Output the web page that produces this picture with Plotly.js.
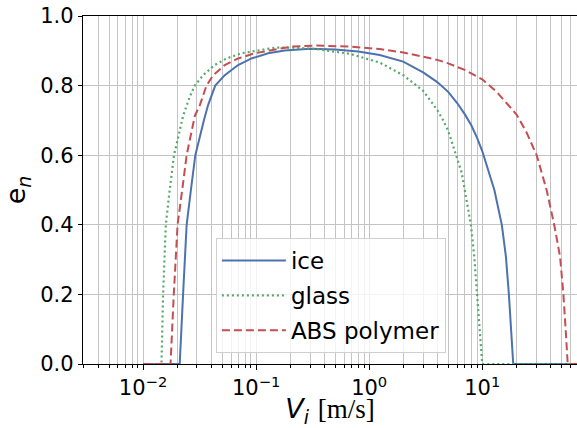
<!DOCTYPE html>
<html>
<head>
<meta charset="utf-8">
<script src="https://cdn.plot.ly/plotly-3.0.1.min.js"></script>
<style>html,body{margin:0;padding:0;background:#fff}#chart{width:577px;height:428px}</style>
</head>
<body>
<div id="chart"></div>
<script>
// ice (blue solid)
const iceV = [0.01, 0.0211, 0.0226, 0.0243, 0.0265, 0.029, 0.0345, 0.0376, 0.0435, 0.0528, 0.0693, 0.091, 0.128, 0.179, 0.30, 0.50, 0.80, 1.24, 2.0, 3.0, 4.0, 5.0, 6.0, 7.0, 8.0, 9.0, 10.0, 11.7, 12.8, 14.9, 16.2, 17.2, 18.1, 18.8, 100];
const iceE = [0, 0, 0.2, 0.4, 0.5, 0.6, 0.70, 0.744, 0.8, 0.830, 0.859, 0.878, 0.893, 0.901, 0.906, 0.904, 0.898, 0.888, 0.869, 0.838, 0.810, 0.782, 0.750, 0.718, 0.686, 0.650, 0.612, 0.540, 0.5, 0.4, 0.308, 0.2, 0.098, 0, 0];
// glass (green dotted)
const glassV = [0.01, 0.01456, 0.01504, 0.0159, 0.0172, 0.0188, 0.0226, 0.0259, 0.0287, 0.034, 0.0431, 0.0547, 0.0743, 0.104, 0.147, 0.22, 0.344, 0.68, 1.24, 2.0, 2.65, 3.0, 4.0, 4.5, 5.0, 5.9, 6.58, 7.0, 7.94, 8.5, 9.0, 9.4, 10.0, 100];
const glassE = [0, 0, 0.2, 0.4, 0.5, 0.6, 0.713, 0.768, 0.8, 0.830, 0.859, 0.878, 0.893, 0.901, 0.909, 0.909, 0.905, 0.891, 0.866, 0.830, 0.800, 0.785, 0.730, 0.701, 0.670, 0.6, 0.55, 0.5, 0.4, 0.308, 0.2, 0.098, 0, 0];
// ABS polymer (red dashed)
const absV = [0.01, 0.0175, 0.0187, 0.0202, 0.0222, 0.0243, 0.0287, 0.0318, 0.0364, 0.0417, 0.0528, 0.0693, 0.0975, 0.136, 0.205, 0.344, 0.68, 1.24, 2.0, 3.0, 4.0, 5.0, 7.0, 10.0, 13.4, 16.9, 20.1, 24.7, 30.3, 37.1, 43.3, 48.8, 52.2, 54.7, 57.0, 100];
const absE = [0, 0, 0.2, 0.4, 0.5, 0.6, 0.713, 0.744, 0.8, 0.830, 0.859, 0.878, 0.893, 0.901, 0.912, 0.915, 0.912, 0.905, 0.895, 0.883, 0.874, 0.864, 0.845, 0.818, 0.782, 0.745, 0.717, 0.665, 0.6, 0.5, 0.4, 0.308, 0.2, 0.098, 0, 0];

const majorTicks = [0.01, 0.1, 1, 10];
const majorText = ['10<sup>−2</sup>', '10<sup>−1</sup>', '10<sup>0</sup>', '10<sup>1</sup>'];
const minorTicks = [0.003,0.004,0.005,0.006,0.007,0.008,0.009,
  0.02,0.03,0.04,0.05,0.06,0.07,0.08,0.09,
  0.2,0.3,0.4,0.5,0.6,0.7,0.8,0.9,
  2,3,4,5,6,7,8,9,20,30,40,50,60,70];
const yTicks = [0, 0.2, 0.4, 0.6, 0.8, 1.0];
const yText = ['0.0', '0.2', '0.4', '0.6', '0.8', '1.0'];

const font = 'DejaVu Sans, sans-serif';
const traces = [
  {x: iceV, y: iceE, name: 'ice', mode: 'lines', legendgroup: 'a',
   line: {color: '#4c72b0', width: 2}},
  {x: glassV, y: glassE, name: 'glass', mode: 'lines', legendgroup: 'b',
   line: {color: '#55a868', width: 2.2, dash: '2px,3px'}},
  {x: absV, y: absE, name: 'ABS polymer', mode: 'lines', legendgroup: 'c',
   line: {color: '#c44e52', width: 2, dash: '8px,4px'}}
];
const layout = {
  width: 577, height: 428,
  margin: {l: 83, r: 0, t: 16, b: 64},
  paper_bgcolor: '#fff', plot_bgcolor: '#fff',
  font: {family: font, size: 21, color: '#000'},
  showlegend: true,
  legend: {x: 0.269, y: 0.362, xanchor: 'left', yanchor: 'top',
    bgcolor: 'rgba(255,255,255,0.8)', bordercolor: '#d0d0d0', borderwidth: 1,
    font: {family: font, size: 23, color: '#000'}, tracegroupgap: 2, itemwidth: 64},
  xaxis: {
    type: 'log', range: [-2.531, 1.838],
    tickmode: 'array', tickvals: majorTicks, ticktext: majorText,
    ticks: 'outside', ticklen: 5, tickcolor: '#000', tickwidth: 1,
    showgrid: true, gridcolor: '#c4c4c4', gridwidth: 1,
    minor: {tickmode: 'array', tickvals: minorTicks, ticks: 'outside', ticklen: 3,
      tickcolor: '#000', showgrid: true, gridcolor: '#c4c4c4', gridwidth: 1},
    showline: true, linecolor: '#000', linewidth: 1.2, mirror: true,
    zeroline: false, automargin: true,
    tickfont: {family: font, size: 21},
    title: {text: '<i>V</i><sub><i>i</i></sub> <span style="font-family:Liberation Serif">[m/s]</span>',
      font: {family: font, size: 27}, standoff: 8}
  },
  yaxis: {
    range: [0, 1], tickmode: 'array', tickvals: yTicks, ticktext: yText,
    ticks: 'outside', ticklen: 4, tickcolor: '#000',
    showgrid: true, gridcolor: '#c4c4c4', gridwidth: 1,
    showline: true, linecolor: '#000', linewidth: 1.2,
    zeroline: false,
    tickfont: {family: font, size: 21},
    title: {text: 'e<sub><i>n</i></sub>', font: {family: font, size: 27}, standoff: 8}
  }
};
Plotly.newPlot('chart', traces, layout, {staticPlot: true, displayModeBar: false});
</script>
</body>
</html>
